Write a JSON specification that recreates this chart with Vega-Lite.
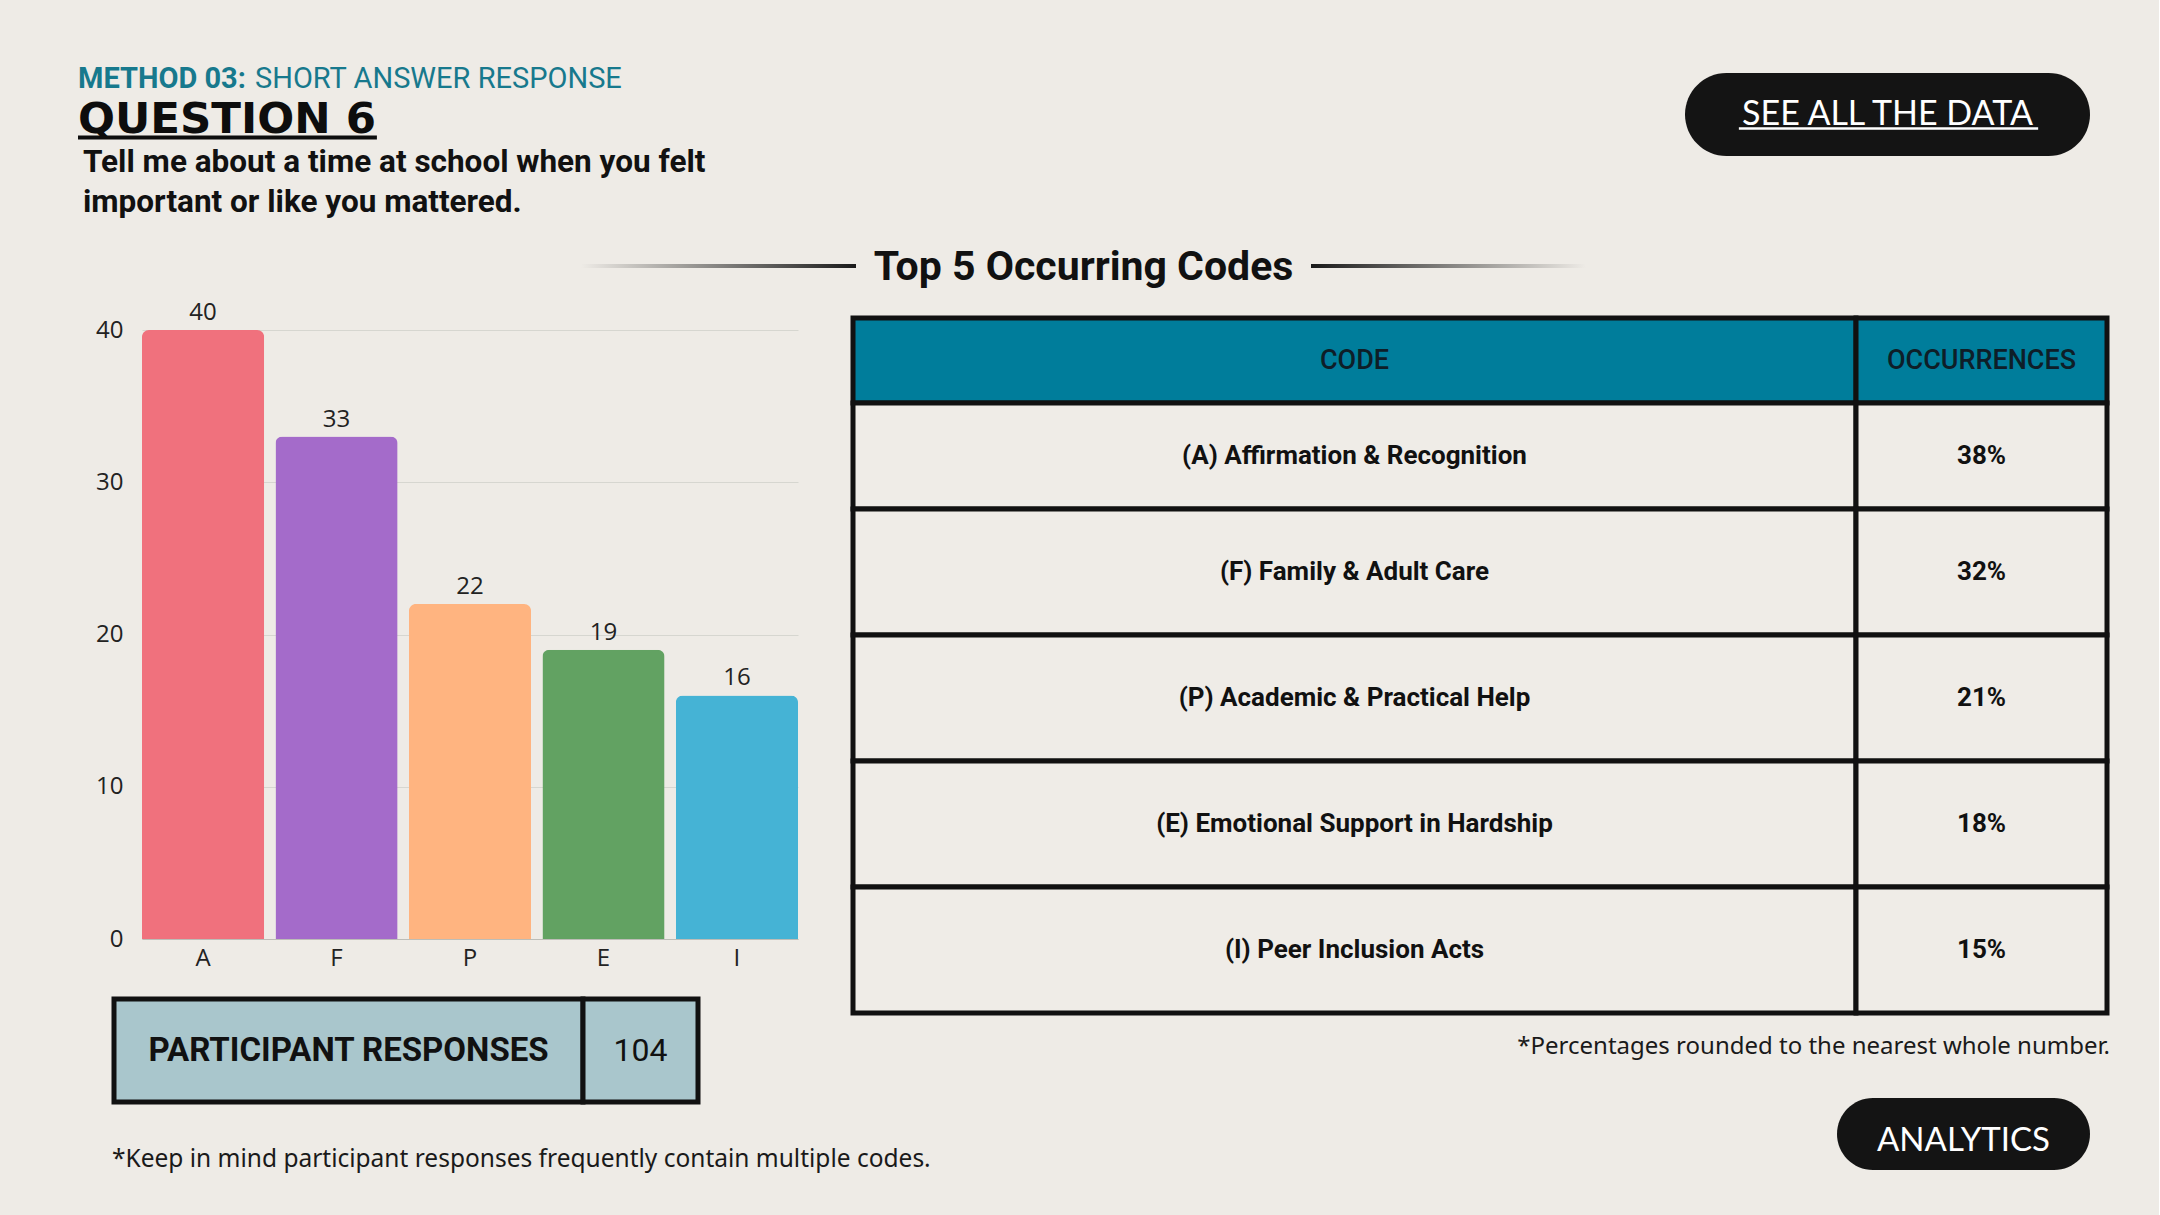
{
  "$schema": "https://vega.github.io/schema/vega-lite/v6.json",
  "background": "#EEEBE6",
  "padding": {"left": 76, "top": 55, "right": 49, "bottom": 37},
  "config": {
    "view": {"stroke": null},
    "concat": {"spacing": 0},
    "font": "Noto Sans"
  },
  "datasets": {
    "codes": [
      {"code": "A", "label": "(A) Affirmation & Recognition", "count": 40, "pct": "38%"},
      {"code": "F", "label": "(F) Family & Adult Care", "count": 33, "pct": "32%"},
      {"code": "P", "label": "(P) Academic & Practical Help", "count": 22, "pct": "21%"},
      {"code": "E", "label": "(E) Emotional Support in Hardship", "count": 19, "pct": "18%"},
      {"code": "I", "label": "(I) Peer Inclusion Acts", "count": 16, "pct": "15%"}
    ],
    "responses": [{"label": "PARTICIPANT RESPONSES", "n": 104}]
  },
  "spacing": 0,
  "vconcat": [
    {
      "spacing": 0,
      "hconcat": [
        {
          "width": 1607,
          "height": 180,
          "layer": [
            {
              "data": {"values": [{"t": "METHOD 03:"}]},
              "mark": {"type": "text", "align": "left", "baseline": "alphabetic", "dy": -3, "font": "Roboto", "fontSize": 29, "fontWeight": "bold", "fill": "#17798D"},
              "encoding": {
                "text": {"field": "t"},
                "x": {"datum": 0, "type": "quantitative", "scale": {"domain": [0, 1]}, "axis": null},
                "y": {"datum": "m", "type": "ordinal", "scale": {"type": "point", "domain": ["m", "q", "l1", "l2"], "padding": 0.722, "align": 0.615}, "axis": null}
              }
            },
            {
              "data": {"values": [{"t": "SHORT ANSWER RESPONSE"}]},
              "mark": {"type": "text", "align": "left", "baseline": "alphabetic", "dx": 177, "dy": -3, "font": "Roboto", "fontSize": 29, "fill": "#17798D"},
              "encoding": {
                "text": {"field": "t"},
                "x": {"datum": 0, "type": "quantitative"},
                "y": {"datum": "m", "type": "ordinal"}
              }
            },
            {
              "data": {"values": [{"t": "QUESTION 6"}]},
              "mark": {"type": "text", "align": "left", "baseline": "alphabetic", "dy": 2, "font": "DejaVu Sans", "fontSize": 43.5, "fontWeight": "bold", "fill": "#0D0D0D"},
              "encoding": {
                "text": {"field": "t"},
                "x": {"datum": 0, "type": "quantitative"},
                "y": {"datum": "q", "type": "ordinal"}
              }
            },
            {
              "data": {"values": [{"t": "underline"}]},
              "mark": {"type": "rule", "stroke": "#0D0D0D", "strokeWidth": 4, "yOffset": 6},
              "encoding": {
                "x": {"datum": 0, "type": "quantitative"},
                "x2": {"datum": 0.186},
                "y": {"datum": "q", "type": "ordinal"}
              }
            },
            {
              "data": {"values": [{"t": "Tell me about a time at school when you felt"}]},
              "mark": {"type": "text", "align": "left", "baseline": "alphabetic", "dx": 5, "font": "Roboto", "fontSize": 31.5, "fontWeight": "bold", "fill": "#111111"},
              "encoding": {
                "text": {"field": "t"},
                "x": {"datum": 0, "type": "quantitative"},
                "y": {"datum": "l1", "type": "ordinal"}
              }
            },
            {
              "data": {"values": [{"t": "important or like you mattered."}]},
              "mark": {"type": "text", "align": "left", "baseline": "alphabetic", "dx": 5, "font": "Roboto", "fontSize": 31.5, "fontWeight": "bold", "fill": "#111111"},
              "encoding": {
                "text": {"field": "t"},
                "x": {"datum": 0, "type": "quantitative"},
                "y": {"datum": "l2", "type": "ordinal"}
              }
            }
          ]
        },
        {
          "spacing": 0,
          "vconcat": [
            {"width": 405, "height": 18, "data": {"values": []}, "mark": "point"},
            {
              "width": 405,
              "height": 83,
              "view": {"fill": "#141414", "cornerRadius": 41.5},
              "layer": [
                {
                  "data": {"values": [{"t": "SEE ALL THE DATA"}]},
                  "mark": {"type": "text", "font": "Lato", "fontSize": 34, "fill": "#FFFFFF", "baseline": "middle"},
                  "encoding": {"text": {"field": "t"}}
                },
                {
                  "data": {"values": [{"t": "underline"}]},
                  "mark": {"type": "rule", "stroke": "#FFFFFF", "strokeWidth": 2.5},
                  "encoding": {
                    "x": {"datum": 0.133, "type": "quantitative", "scale": {"domain": [0, 1]}, "axis": null},
                    "x2": {"datum": 0.872},
                    "y": {"datum": 0.33, "type": "quantitative", "scale": {"domain": [0, 1]}, "axis": null}
                  }
                }
              ]
            }
          ]
        }
      ]
    },
    {
      "spacing": 0,
      "hconcat": [
        {"width": 503, "height": 65, "data": {"values": []}, "mark": "point"},
        {
          "spacing": 0,
          "vconcat": [
            {"width": 275, "height": 29, "data": {"values": []}, "mark": "point"},
            {
              "width": 275,
              "height": 4,
              "data": {"values": [{"t": "line"}]},
              "mark": {"type": "rect", "fill": {"gradient": "linear", "x1": 0, "y1": 0, "x2": 1, "y2": 0, "stops": [{"offset": 0, "color": "#EEEBE6"}, {"offset": 1, "color": "#1A1A1A"}]}},
              "encoding": {}
            }
          ]
        },
        {
          "width": 455,
          "height": 65,
          "data": {"values": [{"t": "Top 5 Occurring Codes"}]},
          "mark": {"type": "text", "font": "Roboto", "fontSize": 41, "fontWeight": "bold", "fill": "#111111", "baseline": "middle"},
          "encoding": {"text": {"field": "t"}}
        },
        {
          "spacing": 0,
          "vconcat": [
            {"width": 275, "height": 29, "data": {"values": []}, "mark": "point"},
            {
              "width": 275,
              "height": 4,
              "data": {"values": [{"t": "line"}]},
              "mark": {"type": "rect", "fill": {"gradient": "linear", "x1": 0, "y1": 0, "x2": 1, "y2": 0, "stops": [{"offset": 0, "color": "#1A1A1A"}, {"offset": 1, "color": "#EEEBE6"}]}},
              "encoding": {}
            }
          ]
        }
      ]
    },
    {
      "spacing": 0,
      "bounds": "flush",
      "vconcat": [
        {
          "spacing": 52,
          "hconcat": [
            {
              "spacing": 0,
              "vconcat": [
                {"width": 10, "height": 1, "data": {"values": []}, "mark": "point"},
                {
                  "spacing": 0,
                  "hconcat": [
                    {"width": 17, "height": 10, "data": {"values": []}, "mark": "point"},
                    {
                      "width": 656,
                      "height": 609,
                      "data": {"name": "codes"},
                      "encoding": {
                        "x": {
                          "field": "code", "type": "nominal", "sort": null,
                          "scale": {"domain": ["A", "F", "P", "E", "I"], "paddingInner": 0.085, "paddingOuter": 0},
                          "axis": {"title": null, "labelAngle": 0, "labelFontSize": 24, "labelColor": "#222222", "labelFont": "Open Sans", "ticks": false, "domainColor": "#BDBDB7", "labelPadding": 7}
                        },
                        "y": {
                          "field": "count", "type": "quantitative",
                          "scale": {"domain": [0, 40], "nice": false},
                          "axis": {"title": null, "values": [0, 10, 20, 30, 40], "labelFontSize": 24, "labelColor": "#222222", "labelFont": "Open Sans", "ticks": false, "domain": false, "gridColor": "#D6D6D0", "labelPadding": 19}
                        }
                      },
                      "layer": [
                        {
                          "mark": {"type": "bar", "cornerRadiusTopLeft": 7, "cornerRadiusTopRight": 7},
                          "encoding": {
                            "color": {
                              "field": "code", "type": "nominal",
                              "scale": {"domain": ["A", "F", "P", "E", "I"], "range": ["#F0717D", "#A46BCA", "#FFB480", "#62A262", "#45B3D5"]},
                              "legend": null
                            }
                          }
                        },
                        {
                          "mark": {"type": "text", "baseline": "bottom", "dy": -5, "font": "Open Sans", "fontSize": 24, "fill": "#222222"},
                          "encoding": {"text": {"field": "count"}}
                        }
                      ]
                    }
                  ]
                },
                {"width": 10, "height": 26, "data": {"values": []}, "mark": "point"},
                {
                  "spacing": 0,
                  "bounds": "flush",
                  "hconcat": [
                    {"width": 36, "height": 10, "data": {"values": []}, "mark": "point"},
                    {
                      "width": 469,
                      "height": 103,
                      "view": {"fill": "#A9C6CC", "stroke": "#111111", "strokeWidth": 5},
                      "data": {"name": "responses"},
                      "mark": {"type": "text", "font": "Roboto", "fontSize": 33, "fontWeight": "bold", "fill": "#111111", "baseline": "middle"},
                      "encoding": {"text": {"field": "label"}}
                    },
                    {
                      "width": 115,
                      "height": 103,
                      "view": {"fill": "#A9C6CC", "stroke": "#111111", "strokeWidth": 5},
                      "data": {"name": "responses"},
                      "mark": {"type": "text", "font": "Roboto", "fontSize": 32, "fill": "#111111", "baseline": "middle"},
                      "encoding": {"text": {"field": "n"}}
                    }
                  ]
                }
              ]
            },
            {
              "spacing": 0,
              "vconcat": [
                {"width": 10, "height": 14.5, "data": {"values": []}, "mark": "point"},
                {
                  "columns": 2,
                  "spacing": 0,
                  "bounds": "flush",
                  "concat": [
                    {
                      "width": 1003,
                      "height": 85,
                      "view": {"fill": "#007D9B", "stroke": "#111111", "strokeWidth": 5},
                      "data": {"values": [{"t": "CODE"}]},
                      "mark": {"type": "text", "font": "Roboto", "fontSize": 27, "fontWeight": 500, "fill": "#0E1E28", "baseline": "middle"},
                      "encoding": {"text": {"field": "t"}}
                    },
                    {
                      "width": 251,
                      "height": 85,
                      "view": {"fill": "#007D9B", "stroke": "#111111", "strokeWidth": 5},
                      "data": {"values": [{"t": "OCCURRENCES"}]},
                      "mark": {"type": "text", "font": "Roboto", "fontSize": 27, "fontWeight": 500, "fill": "#0E1E28", "baseline": "middle"},
                      "encoding": {"text": {"field": "t"}}
                    },
                    {
                      "width": 1003,
                      "height": 106,
                      "data": {"name": "codes"},
                      "transform": [{"filter": "datum.code === 'A'"}],
                      "layer": [
                        {"mark": {"type": "rect", "fill": "#EFECE7", "stroke": "#111111", "strokeWidth": 5}, "encoding": {}},
                        {
                          "mark": {"type": "text", "font": "Roboto", "fontSize": 26, "fontWeight": "bold", "fill": "#111111", "baseline": "middle"},
                          "encoding": {"text": {"field": "label"}}
                        }
                      ]
                    },
                    {
                      "width": 251,
                      "height": 106,
                      "data": {"name": "codes"},
                      "transform": [{"filter": "datum.code === 'A'"}],
                      "layer": [
                        {"mark": {"type": "rect", "fill": "#EFECE7", "stroke": "#111111", "strokeWidth": 5}, "encoding": {}},
                        {
                          "mark": {"type": "text", "font": "Roboto", "fontSize": 26, "fontWeight": "bold", "fill": "#111111", "baseline": "middle"},
                          "encoding": {"text": {"field": "pct"}}
                        }
                      ]
                    },
                    {
                      "width": 1003,
                      "height": 504,
                      "data": {"name": "codes"},
                      "transform": [{"filter": "datum.code !== 'A'"}],
                      "encoding": {
                        "y": {"field": "code", "type": "nominal", "sort": null, "scale": {"domain": ["F", "P", "E", "I"], "paddingInner": 0, "paddingOuter": 0}, "axis": null}
                      },
                      "layer": [
                        {"mark": {"type": "rect", "fill": "#EFECE7", "stroke": "#111111", "strokeWidth": 5}},
                        {
                          "mark": {"type": "text", "font": "Roboto", "fontSize": 26, "fontWeight": "bold", "fill": "#111111", "baseline": "middle"},
                          "encoding": {"text": {"field": "label"}}
                        }
                      ]
                    },
                    {
                      "width": 251,
                      "height": 504,
                      "data": {"name": "codes"},
                      "transform": [{"filter": "datum.code !== 'A'"}],
                      "encoding": {
                        "y": {"field": "code", "type": "nominal", "sort": null, "scale": {"domain": ["F", "P", "E", "I"], "paddingInner": 0, "paddingOuter": 0}, "axis": null}
                      },
                      "layer": [
                        {"mark": {"type": "rect", "fill": "#EFECE7", "stroke": "#111111", "strokeWidth": 5}},
                        {
                          "mark": {"type": "text", "font": "Roboto", "fontSize": 26, "fontWeight": "bold", "fill": "#111111", "baseline": "middle"},
                          "encoding": {"text": {"field": "pct"}}
                        }
                      ]
                    }
                  ]
                },
                {
                  "width": 1257,
                  "height": 61,
                  "data": {"values": [{"t": "*Percentages rounded to the nearest whole number."}]},
                  "mark": {"type": "text", "align": "right", "baseline": "middle", "fontSize": 24, "fill": "#1A1A1A"},
                  "encoding": {
                    "text": {"field": "t"},
                    "x": {"datum": 1, "type": "quantitative", "scale": {"domain": [0, 1]}, "axis": null}
                  }
                }
              ]
            }
          ]
        },
        {
          "spacing": 0,
          "hconcat": [
            {"width": 34, "height": 1, "data": {"values": []}, "mark": "point"},
            {
              "spacing": 0,
              "vconcat": [
                {"width": 10, "height": 842, "data": {"values": []}, "mark": "point"},
                {
                  "width": 900,
                  "height": 36,
                  "data": {"values": [{"t": "*Keep in mind participant responses frequently contain multiple codes."}]},
                  "mark": {"type": "text", "align": "left", "baseline": "middle", "fontSize": 24.5, "fill": "#1A1A1A"},
                  "encoding": {
                    "text": {"field": "t"},
                    "x": {"datum": 0, "type": "quantitative", "scale": {"domain": [0, 1]}, "axis": null}
                  }
                }
              ]
            },
            {"width": 825, "height": 1, "data": {"values": []}, "mark": "point"},
            {
              "spacing": 0,
              "vconcat": [
                {"width": 10, "height": 798, "data": {"values": []}, "mark": "point"},
                {
                  "width": 253,
                  "height": 72,
                  "view": {"fill": "#141414", "cornerRadius": 36},
                  "data": {"values": [{"t": "ANALYTICS"}]},
                  "mark": {"type": "text", "font": "Lato", "fontSize": 33, "fill": "#FFFFFF", "baseline": "middle", "dy": 7},
                  "encoding": {"text": {"field": "t"}}
                }
              ]
            }
          ]
        }
      ]
    }
  ]
}
